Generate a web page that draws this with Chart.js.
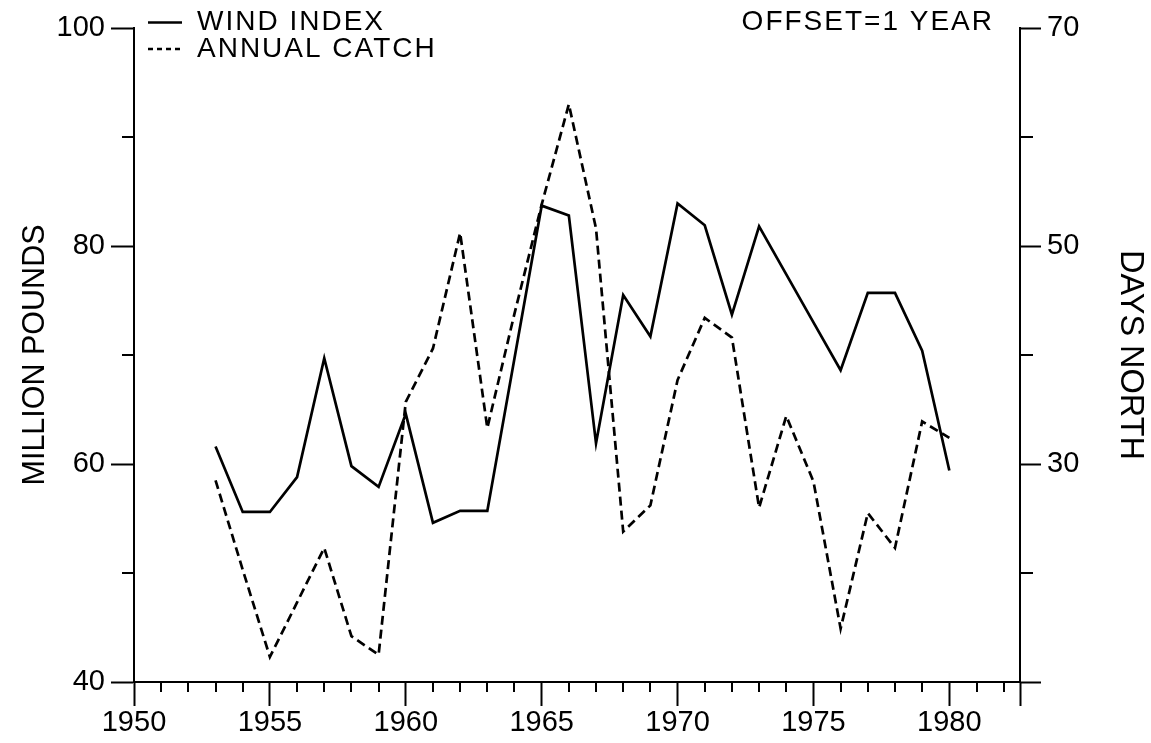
<!DOCTYPE html>
<html>
<head>
<meta charset="utf-8">
<title>Wind index and annual catch</title>
<script src="https://cdn.jsdelivr.net/npm/chart.js@4.4.1/dist/chart.umd.min.js"></script>
<style>
  html, body { margin: 0; padding: 0; background: #fff; }
  #wrap { width: 1151px; height: 743px; }
</style>
</head>
<body>
<div id="wrap"><canvas id="chart" width="1151" height="743"></canvas></div>
<script>
// ---- data ----
const YEARS = [1953, 1954, 1955, 1956, 1957, 1958, 1959, 1960, 1961, 1962,
               1963, 1964, 1965, 1966, 1967, 1968, 1969, 1970, 1971, 1972,
               1973, 1974, 1975, 1976, 1977, 1978, 1979, 1980];

// wind index, days of northward wind (right axis)
const WIND_DAYS = [31.6, 25.6, 25.6, 28.8, 39.7, 29.8, 27.9, 34.6, 24.6, 25.7,
                   25.7, 39.7, 53.7, 52.8, 31.9, 45.5, 41.7, 53.9, 51.9, 43.7,
                   51.8, 47.4, 43.0, 38.6, 45.7, 45.7, 40.4, 29.4];

// annual catch, million pounds (left axis)
const CATCH_MLB = [58.5, 50.3, 42.3, 47.3, 52.3, 44.2, 42.5, 65.7, 70.6, 81.2,
                   63.3, 73.8, 83.8, 93.0, 81.6, 53.8, 56.2, 67.7, 73.4, 71.6,
                   56.0, 64.4, 58.4, 44.9, 55.5, 52.3, 63.9, 62.4];

// ---- axes ----
const X_MIN = 1950, X_MAX = 1982.6;
const X_TICKS = [1950, 1955, 1960, 1965, 1970, 1975, 1980];
const X_MINOR = [1951, 1952, 1953, 1954, 1956, 1957, 1958, 1959, 1961, 1962, 1963, 1964,
                 1966, 1967, 1968, 1969, 1971, 1972, 1973, 1974, 1976, 1977, 1978, 1979,
                 1981, 1982];
const LEFT_TICKS = [40, 60, 80, 100];
const LEFT_MINOR = [50, 70, 90];
const RIGHT_TICKS = [10, 30, 50, 70];
const RIGHT_LABELS = ['', '30', '50', '70'];
const RIGHT_MINOR = [20, 40, 60];

const SERIES_NAMES = ['WIND INDEX', 'ANNUAL CATCH'];
const NOTE = 'OFFSET=1 YEAR';

const FONT = '"Liberation Sans", Arial, sans-serif';
const INK = '#000';

Chart.defaults.font.family = FONT;
Chart.defaults.color = INK;

const toPoints = vals => YEARS.map((yr, i) => ({ x: yr, y: vals[i] }));

// short tick marks between the labelled ones
const minorTicks = {
  id: 'minorTicks',
  afterDraw(chart) {
    const { ctx, chartArea: a, scales } = chart;
    ctx.save();
    ctx.strokeStyle = INK;
    ctx.lineWidth = 2;
    ctx.beginPath();
    X_MINOR.forEach(v => {
      const px = Math.round(scales.x.getPixelForValue(v));
      ctx.moveTo(px, a.bottom);
      ctx.lineTo(px, a.bottom + 10);
    });
    LEFT_MINOR.forEach(v => {
      const py = Math.round(scales.y.getPixelForValue(v));
      ctx.moveTo(a.left, py);
      ctx.lineTo(a.left - 12, py);
    });
    RIGHT_MINOR.forEach(v => {
      const py = Math.round(scales.y1.getPixelForValue(v));
      ctx.moveTo(a.right, py);
      ctx.lineTo(a.right + 13, py);
    });
    ctx.stroke();
    ctx.restore();
  }
};

// line key at the top left and the offset note at the top right
const keyAndNote = {
  id: 'keyAndNote',
  afterDraw(chart) {
    const { ctx, chartArea: a } = chart;
    ctx.save();
    ctx.font = '28px ' + FONT;
    ctx.letterSpacing = '2px';
    ctx.fillStyle = INK;
    ctx.textBaseline = 'middle';
    chart.data.datasets.forEach((ds, i) => {
      const y = 22.5 + i * 26.5;
      ctx.strokeStyle = ds.borderColor;
      ctx.lineWidth = ds.borderWidth;
      ctx.setLineDash(ds.borderDash ? [5, 4] : []);
      ctx.beginPath();
      ctx.moveTo(a.left + 14, y);
      ctx.lineTo(a.left + 48, y);
      ctx.stroke();
      ctx.setLineDash([]);
      ctx.textAlign = 'left';
      ctx.fillText(ds.label, a.left + 63, y);
    });
    ctx.textAlign = 'right';
    ctx.fillText(NOTE, a.right - 26, 22.5);
    ctx.restore();
  }
};

const axisLine = { color: INK, width: 2 };
const tickFont = { size: 29, family: FONT };

new Chart(document.getElementById('chart'), {
  type: 'line',
  data: {
    datasets: [
      {
        label: SERIES_NAMES[0],
        data: toPoints(WIND_DAYS),
        yAxisID: 'y1',
        borderColor: INK,
        borderWidth: 2.7,
        pointRadius: 0,
        tension: 0,
        fill: false
      },
      {
        label: SERIES_NAMES[1],
        data: toPoints(CATCH_MLB),
        yAxisID: 'y',
        borderColor: INK,
        borderWidth: 2.7,
        borderDash: [9, 5],
        pointRadius: 0,
        tension: 0,
        fill: false
      }
    ]
  },
  options: {
    responsive: false,
    animation: false,
    devicePixelRatio: 1,
    layout: { padding: { top: 28, left: 0, right: 0, bottom: 0 } },
    plugins: { legend: { display: false }, tooltip: { enabled: false } },
    scales: {
      x: {
        type: 'linear',
        min: X_MIN,
        max: X_MAX,
        afterBuildTicks: s => { s.ticks = X_TICKS.concat([X_MAX]).map(v => ({ value: v })); },
        afterFit: s => { s.height = 61; },
        ticks: {
          autoSkip: false, maxRotation: 0, minRotation: 0, padding: 0,
          font: tickFont, color: INK,
          callback: v => (X_TICKS.includes(v) ? String(v) : '')
        },
        grid: { drawOnChartArea: false, tickLength: 24, tickWidth: 2, tickColor: INK, color: INK },
        border: axisLine
      },
      y: {
        position: 'left',
        min: 40,
        max: 100,
        afterBuildTicks: s => { s.ticks = LEFT_TICKS.map(v => ({ value: v })); },
        afterFit: s => { s.width = 134; },
        ticks: { padding: 6, font: tickFont, color: INK, callback: v => String(v) },
        grid: { drawOnChartArea: false, tickLength: 23, tickWidth: 2, tickColor: INK, color: INK },
        border: axisLine,
        title: {
          display: true, text: 'MILLION POUNDS', color: INK,
          font: { size: 30.5, family: FONT }, padding: { top: 17, bottom: 0 }
        }
      },
      y1: {
        position: 'right',
        min: 10,
        max: 70,
        afterBuildTicks: s => { s.ticks = RIGHT_TICKS.map(v => ({ value: v })); },
        afterFit: s => { s.width = 131; },
        ticks: {
          padding: 6, font: tickFont, color: INK,
          callback: v => RIGHT_LABELS[RIGHT_TICKS.indexOf(v)]
        },
        grid: { drawOnChartArea: false, tickLength: 21, tickWidth: 2, tickColor: INK, color: INK },
        border: axisLine,
        title: {
          display: true, text: 'DAYS NORTH', color: INK,
          font: { size: 32.5, family: FONT }, padding: { top: 2, bottom: 0 }
        }
      }
    }
  },
  plugins: [minorTicks, keyAndNote]
});
</script>
</body>
</html>
